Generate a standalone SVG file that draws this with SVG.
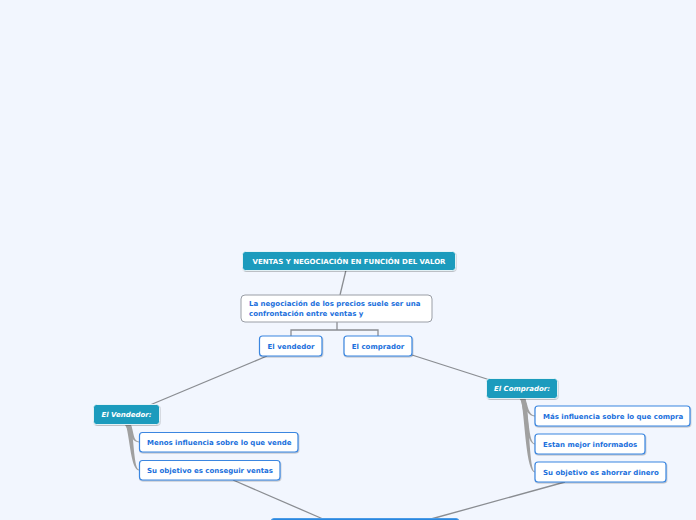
<svg xmlns="http://www.w3.org/2000/svg" width="696" height="520" viewBox="0 0 696 520">
<style>
.t{font-family:"DejaVu Sans",Verdana,sans-serif;font-weight:bold;font-size:7px}
.w{fill:#ffffff}
.b{fill:#1a6fdc}
.teal{fill:#1a9bbd;stroke:#ffffff;stroke-width:0.8}
.box{fill:#ffffff;stroke:#3a86e0;stroke-width:1.2}
.gbox{fill:#ffffff;stroke:#9a9ea6;stroke-width:1}
.ln{fill:none;stroke:#8a8d92;stroke-width:1.3}
.br{fill:#a0a0a0;stroke:none}
</style>
<defs>
<filter id="sh" x="-10%" y="-20%" width="120%" height="150%">
<feDropShadow dx="0.5" dy="1" stdDeviation="0.7" flood-color="#000" flood-opacity="0.25"/>
</filter>
</defs>
<rect width="696" height="520" fill="#f2f6fe"/>
<g id="connectors">
<path class="ln" d="M346,270 L340,295"/>
<path class="ln" d="M337,322 V330 H291 V336 M337,330 H378 V336"/>
<path class="ln" d="M267,356 L150,405"/>
<path class="ln" d="M412,355 L490,380"/>
<path class="ln" d="M233,480 L323,519"/>
<path class="ln" d="M565,482 L431,519"/>
<path class="br" d="M125,425 L131,425 C134,432 133,441 139,441.6 L139,442.4 C131,442 130,432 125,425 Z"/>
<path class="br" d="M126,425 L131,425 C134,440 134,469 139,469.6 L139,470.4 C131,470 130,440 126,425 Z"/>
<path class="br" d="M519,398 L525,398 C528,405 528,415 535,415.6 L535,416.4 C526,416 525,405 519,398 Z"/>
<path class="br" d="M520,398 L525,398 C529,412 528,443 535,443.6 L535,444.4 C526,444 525,412 520,398 Z"/>
<path class="br" d="M521,398 L525,398 C530,420 529,471 535,471.6 L535,472.4 C526,472 525,420 521,398 Z"/>
</g>
<g id="title">
<rect class="teal" x="242.5" y="251.5" width="213" height="19" rx="3" filter="url(#sh)"/>
<text class="t w" x="349" y="264" text-anchor="middle" font-size="7.2">VENTAS Y NEGOCIACIÓN EN FUNCIÓN DEL VALOR</text>
</g>
<g id="negociacion">
<rect class="gbox" x="241" y="295" width="191" height="27" rx="4"/>
<text class="t b" x="249" y="306">La negociación de los precios suele ser una</text>
<text class="t b" x="249" y="316">confrontación entre ventas y</text>
</g>
<g id="el-vendedor">
<rect class="box" x="259.5" y="336" width="62.5" height="20" rx="3" filter="url(#sh)"/>
<text class="t b" x="291" y="349" text-anchor="middle">El vendedor</text>
</g>
<g id="el-comprador">
<rect class="box" x="344" y="336" width="68" height="20" rx="3" filter="url(#sh)"/>
<text class="t b" x="378" y="349" text-anchor="middle">El comprador</text>
</g>
<g id="vendedor-head">
<rect class="teal" x="93.5" y="404.5" width="66" height="20" rx="3" filter="url(#sh)"/>
<text class="t w" x="126.5" y="417" text-anchor="middle" font-style="italic">El Vendedor:</text>
</g>
<g id="menos-influencia">
<rect class="box" x="139.5" y="432.5" width="158.5" height="19.5" rx="3" filter="url(#sh)"/>
<text class="t b" x="147" y="445">Menos influencia sobre lo que vende</text>
</g>
<g id="conseguir-ventas">
<rect class="box" x="139.5" y="460.5" width="140.5" height="19.5" rx="3" filter="url(#sh)"/>
<text class="t b" x="147" y="473">Su objetivo es conseguir ventas</text>
</g>
<g id="comprador-head">
<rect class="teal" x="486.5" y="378.5" width="71" height="20" rx="3" filter="url(#sh)"/>
<text class="t w" x="522" y="391" text-anchor="middle" font-style="italic">El Comprador:</text>
</g>
<g id="mas-influencia">
<rect class="box" x="535" y="406" width="155" height="20" rx="3" filter="url(#sh)"/>
<text class="t b" x="543" y="419">Más influencia sobre lo que compra</text>
</g>
<g id="mejor-informados">
<rect class="box" x="535" y="434" width="110" height="20" rx="3" filter="url(#sh)"/>
<text class="t b" x="543" y="447">Estan mejor informados</text>
</g>
<g id="ahorrar-dinero">
<rect class="box" x="535" y="462" width="131" height="20" rx="3" filter="url(#sh)"/>
<text class="t b" x="543" y="475">Su objetivo es ahorrar dinero</text>
</g>
<g id="bottom-node">
<rect x="271" y="518.5" width="188" height="20" rx="3" fill="#2a87df" stroke="#4a9ae6" stroke-width="1"/>
</g>
</svg>
